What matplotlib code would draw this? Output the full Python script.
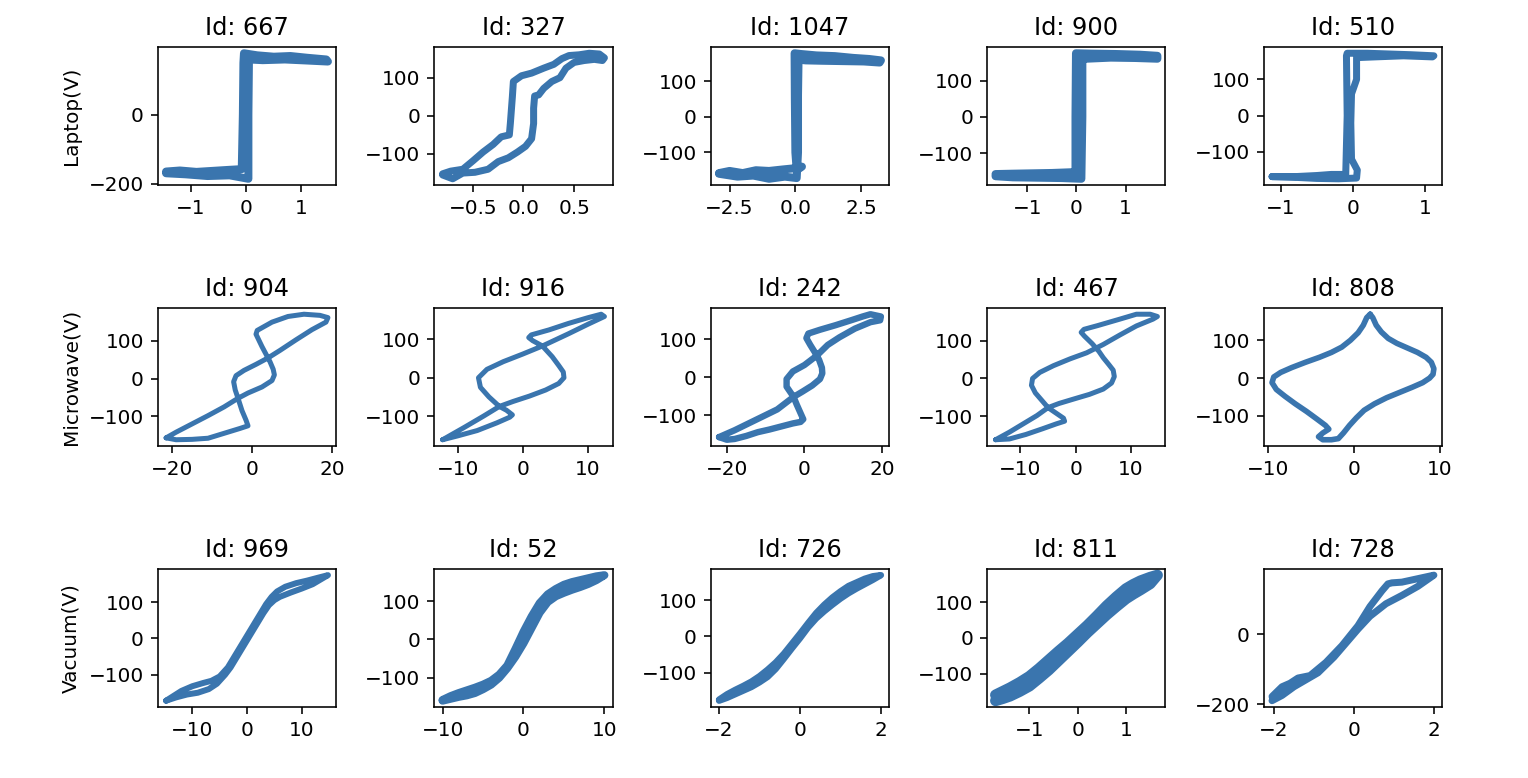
import matplotlib
matplotlib.use("Agg")
import matplotlib.pyplot as plt

# V-I trajectories, current (A) on x, voltage (V) on y

appliances = ["Laptop", "Microwave", "Vacuum"]
ids = [[667, 327, 1047, 900, 510],
       [904, 916, 242, 467, 808],
       [969, 52, 726, 811, 728]]

# --- Laptop ---
i_667 = [-1.45, -1.2, -0.9, -0.6, -0.3, -0.08, -0.06, -0.05, -0.04, 0.2, 0.5, 0.8, 1.1, 1.45, 1.48,
         1.1, 0.7, 0.3, 0.05, 0.04, 0.04, -0.3, -0.7, -1.1, -1.45]
v_667 = [-165, -162, -166, -163, -160, -158, 0, 150, 178, 172, 168, 170, 165, 160, 154,
         157, 160, 158, 160, 0, -186, -176, -178, -173, -170]

i_327 = [-0.80, -0.72, -0.60, -0.50, -0.40, -0.30, -0.22, -0.14, -0.13, -0.12, -0.11, -0.10, -0.02,
         0.08, 0.20, 0.30, 0.38, 0.45, 0.55, 0.65, 0.75, 0.80, 0.78, 0.70, 0.60, 0.50, 0.42, 0.36,
         0.28, 0.20, 0.15, 0.11, 0.10, 0.10, 0.08, 0.02, -0.06, -0.15, -0.25, -0.35, -0.48, -0.60,
         -0.70, -0.80]
v_327 = [-152, -145, -140, -118, -95, -75, -55, -50, -20, 15, 50, 90, 105,
         112, 125, 135, 150, 158, 160, 164, 162, 152, 145, 148, 145, 140, 125, 100,
         90, 72, 55, 52, 20, -20, -60, -80, -95, -110, -120, -140, -148, -150,
         -165, -155]

i_1047 = [-2.9, -2.5, -2.0, -1.5, -1.0, -0.5, -0.1, 0.25, 0.05, 0.0, -0.02, -0.03, 0.2, 0.8, 1.5,
          2.2, 2.8, 3.25, 3.2, 2.6, 1.8, 1.0, 0.4, 0.12, 0.1, 0.1, 0.05, -0.4, -1.0, -1.6, -2.2, -2.9]
v_1047 = [-158, -152, -158, -150, -152, -148, -145, -140, -150, -100, 50, 178, 176, 172, 170,
          165, 162, 158, 152, 155, 156, 157, 158, 160, 60, -100, -172, -168, -174, -165, -168, -160]

i_900 = [-1.65, -1.3, -0.9, -0.5, -0.1, -0.02, -0.02, -0.01, 0.3, 0.8, 1.3, 1.65, 1.65, 1.2, 0.7,
         0.2, 0.12, 0.12, 0.1, -0.3, -0.8, -1.3, -1.65]
v_900 = [-157, -156, -155, -154, -152, -150, 0, 175, 174, 173, 171, 168, 160, 162, 163,
         160, 158, 0, -170, -168, -167, -166, -163]

i_510 = [-1.12, -0.8, -0.5, -0.3, -0.1, -0.08, -0.09, -0.08, 0.2, 0.5, 0.8, 1.12, 1.1, 0.7, 0.3,
         0.05, 0.05, -0.02, -0.03, -0.02, 0.06, 0.05, -0.2, -0.5, -0.8, -1.12]
v_510 = [-168, -168, -165, -162, -162, 0, 165, 172, 172, 170, 168, 165, 162, 165, 162,
         160, 100, 60, -20, -120, -150, -172, -174, -173, -170, -168]

# --- Microwave ---
i_904 = [-21.5, -19, -15, -11, -7, -3, -1, -1.5, -2.5, -3.5, -1, 2.5, 5, 5.6, 5.3, 4.5, 4, 2.5, 1,
         1.3, 5, 9, 13, 17, 19, 18.5, 15, 11, 7, 4, 1, -2, -4, -4.6, -4.2, -3.5, -7, -11, -15,
         -19, -21.5]
v_904 = [-157, -162, -161, -158, -145, -132, -125, -110, -85, -52, -38, -22, -5, 10, 25, 45, 55, 85, 118,
         128, 150, 165, 171, 168, 162, 150, 130, 103, 75, 55, 38, 22, 8, -8, -30, -52, -75, -98, -120,
         -142, -157]

i_916 = [-12.3, -10, -7, -4, -2, -1.6, -2.5, -3.6, -1.5, 1, 3.5, 5.5, 6.3, 6.2, 5.5, 4.5, 3, 1.5, 0.9,
         1.3, 4, 7, 10, 12, 12.5, 10, 7, 3, 0, -3, -5.5, -6.8, -6.5, -5.2, -3.6, -6, -9, -12.3]
v_916 = [-162, -152, -138, -118, -103, -97, -85, -75, -62, -48, -32, -15, 0, 15, 32, 55, 83, 97, 105,
         112, 125, 142, 157, 166, 160, 140, 115, 83, 62, 42, 22, 0, -25, -50, -75, -100, -130, -162]

i_242 = [-22, -20, -18, -15, -12, -9, -6, -3, -1, -0.3, -1, -2, -2.8, -0.5, 2, 4, 4.6, 4.5, 3.8, 3.2,
         1.5, 0.5, 1, 4, 8, 12, 15, 17, 19.7, 19.5, 17, 13, 9, 6, 3.2, 0, -3, -4.6, -4.6, -2.8,
         -7, -12, -15, -18, -22]
v_242 = [-158, -165, -163, -155, -145, -138, -130, -122, -118, -111, -95, -72, -52, -38, -22, -5, 10, 25, 45, 57,
         85, 103, 115, 125, 137, 150, 160, 166, 160, 150, 145, 128, 105, 85, 57, 32, 15, -5, -25, -52,
         -85, -110, -125, -140, -158]

i_467 = [-14.5, -12, -9, -6, -3.5, -2, -2.2, -3.5, -5, -3, -0.5, 2.5, 5, 6.5, 7, 6.8, 6, 5, 4.2, 3,
         1.6, 1, 1.5, 4, 8, 11, 13.5, 14.8, 14, 11, 8, 5, 2, -1, -4, -6.5, -7.8, -8, -7.3, -6, -5,
         -7, -9.5, -12, -14.5]
v_467 = [-162, -160, -148, -133, -120, -113, -105, -92, -77, -66, -55, -42, -28, -12, 5, 22, 37, 55, 72, 92,
         112, 122, 130, 140, 157, 170, 170, 164, 157, 139, 115, 90, 68, 52, 34, 16, 0, -18, -38, -60, -77,
         -98, -120, -142, -162]

i_808 = [1.9, 2.2, 2.6, 3.2, 4.0, 5.0, 6.2, 7.4, 8.4, 9.0, 9.3, 9.2, 8.8, 8.0, 6.8, 5.3, 3.8, 2.4, 1.2,
         0.3, -0.5, -1.2, -1.8, -2.6, -3.6, -4.1, -3.6, -2.9, -3.3, -4.3, -5.5, -6.8, -8.0, -9.0, -9.5,
         -9.3, -8.5, -7.2, -5.6, -4.0, -2.6, -1.4, -0.4, 0.5, 1.1, 1.5, 1.9]
v_808 = [169, 160, 140, 122, 105, 92, 80, 68, 55, 42, 25, 10, 0, -12, -24, -38, -52, -68, -85,
         -105, -125, -145, -160, -163, -163, -155, -145, -135, -125, -108, -88, -68, -48, -30, -12,
         3, 15, 28, 42, 55, 68, 82, 100, 120, 140, 160, 169]

# --- Vacuum ---
i_969 = [-14.8, -13, -11, -9, -7, -5.5, -4, -3, -2, -1, 0, 1, 2, 3, 4, 5, 6, 8, 10, 12, 14.8,
         13, 11, 9, 7, 5.5, 4.5, 3.5, 2.5, 1.5, 0.5, -0.5, -1.5, -2.5, -3.5, -5, -6.5, -8, -10, -12, -14.8]
v_969 = [-172, -163, -155, -150, -140, -125, -100, -80, -55, -30, -5, 20, 45, 70, 92, 106, 115, 127, 138, 150, 175,
         168, 160, 153, 143, 130, 115, 95, 70, 45, 20, -5, -30, -55, -80, -105, -117, -123, -132, -145, -172]

i_52 = [-10, -9, -8, -7, -6, -5, -4, -3, -2, -1, 0, 1, 2, 3, 4, 5, 6, 7, 8, 9, 10,
        9, 8, 7, 6, 5, 4, 3, 2, 1, 0, -1, -2, -3, -4, -5, -6, -7, -8, -9, -10]
v_52 = [-160, -155, -150, -146, -140, -130, -118, -100, -75, -45, -10, 30, 70, 98, 113, 122, 130, 137, 145, 155, 168,
        165, 160, 155, 150, 143, 132, 118, 95, 60, 20, -25, -68, -92, -108, -118, -126, -133, -140, -148, -158]

i_726 = [-2, -1.8, -1.6, -1.4, -1.2, -1.0, -0.8, -0.6, -0.4, -0.2, 0, 0.2, 0.4, 0.6, 0.8, 1.0, 1.2, 1.4,
         1.6, 1.8, 2, 1.8, 1.6, 1.4, 1.2, 1.0, 0.8, 0.6, 0.4, 0.2, 0, -0.2, -0.4, -0.6, -0.8, -1.0, -1.2,
         -1.4, -1.6, -1.8, -2]
v_726 = [-178, -170, -160, -150, -140, -127, -112, -90, -62, -33, -5, 25, 50, 70, 88, 105, 120, 133,
         145, 157, 170, 167, 160, 150, 140, 125, 108, 88, 65, 37, 8, -20, -48, -72, -92, -110, -125,
         -137, -148, -160, -175]

i_811 = [-1.7, -1.55, -1.4, -1.2, -1.0, -0.8, -0.6, -0.4, -0.2, 0, 0.2, 0.4, 0.6, 0.8, 1.0, 1.15, 1.3,
         1.5, 1.65, 1.5, 1.3, 1.15, 1.0, 0.8, 0.6, 0.4, 0.2, 0, -0.2, -0.4, -0.6, -0.8, -1.0, -1.2,
         -1.4, -1.55, -1.7]
v_811 = [-176, -170, -163, -150, -135, -113, -90, -64, -38, -12, 15, 40, 65, 88, 110, 123, 135,
         152, 176, 170, 160, 150, 138, 115, 90, 62, 35, 10, -15, -38, -62, -86, -108, -125,
         -140, -150, -160]

i_728 = [-2.05, -1.8, -1.5, -1.2, -0.9, -0.5, -0.2, 0.1, 0.4, 0.8, 1.2, 1.6, 2.0,
         1.6, 1.2, 0.95, 0.85, 0.7, 0.4, 0.1, -0.3, -0.7, -1.1, -1.4, -1.6, -1.8, -2.05]
v_728 = [-190, -175, -150, -130, -110, -65, -25, 15, 52, 88, 112, 138, 170,
         160, 150, 148, 145, 125, 80, 25, -32, -80, -118, -125, -140, -150, -178]

currents = [[i_667, i_327, i_1047, i_900, i_510],
            [i_904, i_916, i_242, i_467, i_808],
            [i_969, i_52, i_726, i_811, i_728]]
voltages = [[v_667, v_327, v_1047, v_900, v_510],
            [v_904, v_916, v_242, v_467, v_808],
            [v_969, v_52, v_726, v_811, v_728]]
# noisy traces look thicker
widths = [[4.0, 3.5, 4.0, 4.0, 3.5],
          [2.5, 2.5, 3.2, 2.5, 2.8],
          [3.0, 4.0, 3.2, 5.5, 3.5]]

color = "#3a75ae"

fig, axs = plt.subplots(3, 5, figsize=(1528 / 144, 778 / 144), dpi=144)
plt.subplots_adjust(left=0.1034, right=0.9437, top=0.9396, bottom=0.0913,
                    wspace=0.553, hspace=0.89)

for r in range(3):
    for c in range(5):
        ax = axs[r][c]
        ax.plot(currents[r][c], voltages[r][c], color=color, lw=widths[r][c],
                solid_joinstyle="round", solid_capstyle="round")
        ax.set_title("Id: " + str(ids[r][c]))
    axs[r][0].set_ylabel(appliances[r] + "(V)")

fig.savefig("out.png", dpi=144)
